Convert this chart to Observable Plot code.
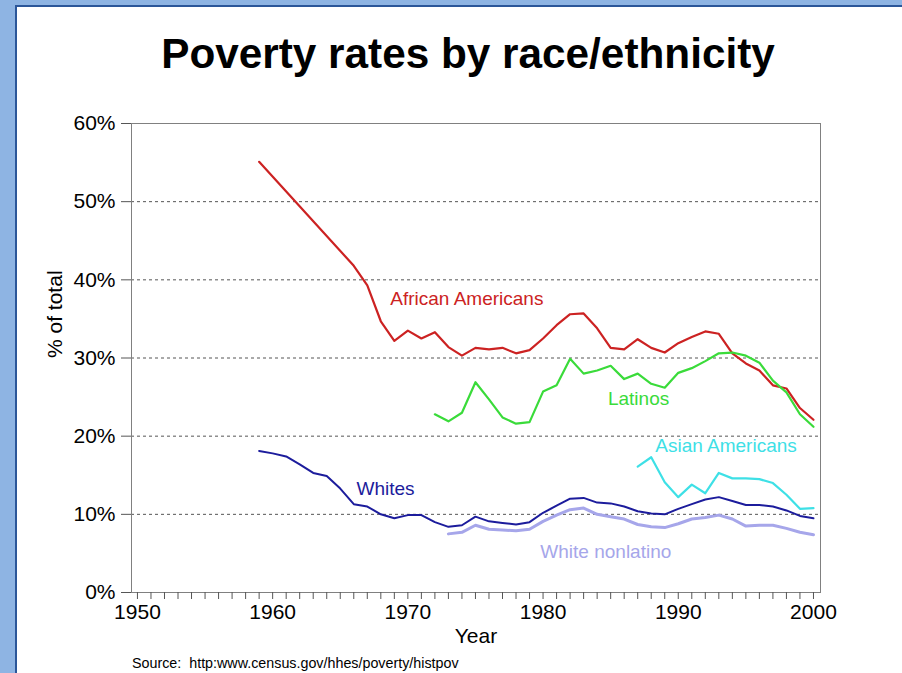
<!DOCTYPE html>
<html><head><meta charset="utf-8">
<script src="https://cdn.jsdelivr.net/npm/d3@7"></script>
<script src="https://cdn.jsdelivr.net/npm/@observablehq/plot@0.6"></script>
<style>
html,body{margin:0;padding:0;width:902px;height:673px;overflow:hidden;background:#8EB4E3;font-family:"Liberation Sans",Arial,sans-serif;}
#slide{position:absolute;left:15px;top:5px;right:-10px;bottom:-10px;background:#fff;border-left:2px solid #2B5699;border-top:2px solid #2B5699;}
#title{position:absolute;left:68px;width:800px;top:33px;text-align:center;font-weight:bold;font-size:42.3px;line-height:42.3px;color:#000;}
#chart{position:absolute;left:0;top:100px;}
#source{position:absolute;left:132px;top:656px;font-size:14.3px;line-height:14.3px;white-space:pre;color:#000;}
</style></head>
<body>
<div id="slide"></div>
<div id="title">Poverty rates by race/ethnicity</div>
<div id="chart"></div>
<div id="source">Source:  http:www.census.gov/hhes/poverty/histpov</div>
<script>
// ---- data ----
const blackYears = [1959,1966,1967,1968,1969,1970,1971,1972,1973,1974,1975,1976,1977,1978,1979,1980,1981,1982,1983,1984,1985,1986,1987,1988,1989,1990,1991,1992,1993,1994,1995,1996,1997,1998,1999,2000];
const blackPct   = [55.1,41.8,39.3,34.7,32.2,33.5,32.5,33.3,31.4,30.3,31.3,31.1,31.3,30.6,31.0,32.5,34.2,35.6,35.7,33.8,31.3,31.1,32.4,31.3,30.7,31.9,32.7,33.4,33.1,30.6,29.3,28.4,26.5,26.1,23.6,22.1];

const latinoYears = [1972,1973,1974,1975,1976,1977,1978,1979,1980,1981,1982,1983,1984,1985,1986,1987,1988,1989,1990,1991,1992,1993,1994,1995,1996,1997,1998,1999,2000];
const latinoPct   = [22.8,21.9,23.0,26.9,24.7,22.4,21.6,21.8,25.7,26.5,29.9,28.0,28.4,29.0,27.3,28.0,26.7,26.2,28.1,28.7,29.6,30.6,30.7,30.3,29.4,27.1,25.6,22.8,21.2];

const asianYears = [1987,1988,1989,1990,1991,1992,1993,1994,1995,1996,1997,1998,1999,2000];
const asianPct   = [16.1,17.3,14.1,12.2,13.8,12.7,15.3,14.6,14.6,14.5,14.0,12.5,10.7,10.8];

const whiteYears = [1959,1960,1961,1962,1963,1964,1965,1966,1967,1968,1969,1970,1971,1972,1973,1974,1975,1976,1977,1978,1979,1980,1981,1982,1983,1984,1985,1986,1987,1988,1989,1990,1991,1992,1993,1994,1995,1996,1997,1998,1999,2000];
const whitePct   = [18.1,17.8,17.4,16.4,15.3,14.9,13.3,11.3,11.0,10.0,9.5,9.9,9.9,9.0,8.4,8.6,9.7,9.1,8.9,8.7,9.0,10.2,11.1,12.0,12.1,11.5,11.4,11.0,10.4,10.1,10.0,10.7,11.3,11.9,12.2,11.7,11.2,11.2,11.0,10.5,9.8,9.5];

const wnlYears = [1973,1974,1975,1976,1977,1978,1979,1980,1981,1982,1983,1984,1985,1986,1987,1988,1989,1990,1991,1992,1993,1994,1995,1996,1997,1998,1999,2000];
const wnlPct   = [7.5,7.7,8.6,8.1,8.0,7.9,8.1,9.1,9.9,10.6,10.8,10.0,9.7,9.4,8.7,8.4,8.3,8.8,9.4,9.6,9.9,9.4,8.5,8.6,8.6,8.2,7.7,7.4];

const seriesNames = ["African Americans","Latinos","Asian Americans","Whites","White nonlatino"];
const yTicks = [0,10,20,30,40,50,60];
const gridValues = [10,20,30,40,50];
const xTicks = d3.range(1950, 2001);
const yTitle = "% of total";
const xTitle = "Year";

// ---- build tables ----
const toRows = (ys, vs, name) => ys.map((y, i) => ({year: y, pct: vs[i], series: name}));
const series = [
  {rows: toRows(blackYears, blackPct, seriesNames[0]), color: "#CC2222", width: 2.2, lx: 1968.7, ly: 37.6},
  {rows: toRows(latinoYears, latinoPct, seriesNames[1]), color: "#3ADB3A", width: 2.2, lx: 1984.8, ly: 24.8},
  {rows: toRows(asianYears, asianPct, seriesNames[2]), color: "#3EE0E6", width: 2.2, lx: 1988.3, ly: 18.7},
  {rows: toRows(wnlYears, wnlPct, seriesNames[4]), color: "#A6A6EA", width: 3, lx: 1979.8, ly: 5.2},
  {rows: toRows(whiteYears, whitePct, seriesNames[3]), color: "#1C1C9C", width: 2, lx: 1966.2, ly: 13.3}
];

const marks = [
  Plot.ruleY(gridValues, {stroke: "#555", strokeDasharray: "3,3", strokeWidth: 1}),
  Plot.frame({stroke: "#808080", strokeWidth: 1}),
  Plot.axisY({ticks: yTicks, tickFormat: d => d + "%", tickSize: 10, tickPadding: 6, fontSize: 21, label: null, stroke: "#555"}),
  Plot.axisX({ticks: xTicks, tickFormat: d => d % 10 === 0 ? String(d) : "", tickSize: 7, tickPadding: 5, fontSize: 21, label: null, stroke: "#555"})
];
for (const s of series) {
  marks.push(Plot.line(s.rows, {x: "year", y: "pct", stroke: s.color, strokeWidth: s.width, strokeLinejoin: "round"}));
  marks.push(Plot.text([s.rows[0].series], {x: () => s.lx, y: () => s.ly, text: d => d, fill: s.color, fontSize: 19, textAnchor: "start"}));
}
marks.push(Plot.text([yTitle], {frameAnchor: "left", text: d => d, rotate: -90, dx: -76, fontSize: 21, fill: "#000"}));
marks.push(Plot.text([xTitle], {frameAnchor: "bottom", text: d => d, dy: 50, fontSize: 21, fill: "#000"}));

const chart = Plot.plot({
  width: 902,
  height: 555,
  marginLeft: 131,
  marginRight: 82,
  marginTop: 23,
  marginBottom: 63,
  style: {background: "transparent", fontFamily: "Liberation Sans, Arial, sans-serif", color: "#000"},
  x: {domain: [1949.56, 2000.52], label: null},
  y: {domain: [0, 60], label: null},
  marks
});
document.getElementById("chart").appendChild(chart);
</script>
</body></html>
